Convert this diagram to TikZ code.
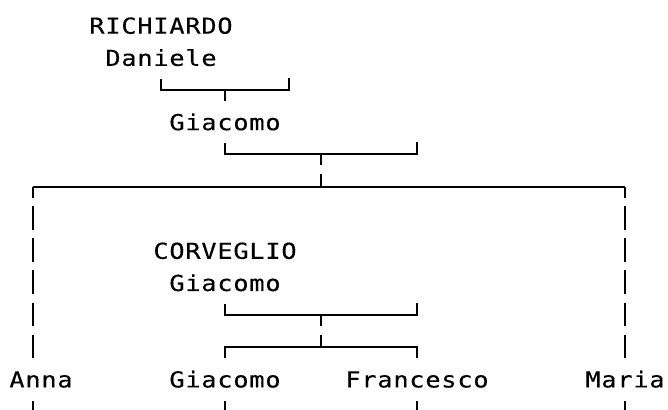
\documentclass[tikz,border=0pt]{standalone}
\usepackage{fontspec}
\usepackage{tikz}
\newfontfamily\alberofont[FakeStretch=1.15,FakeBold=0.25,LetterSpace=3.5]{DejaVu Sans Mono}

\begin{document}
\begin{tikzpicture}[x=16pt,y=-32.16pt,
    nome/.style={font=\alberofont\fontsize{22pt}{24pt}\selectfont, anchor=base, yshift=-8pt,
      text height=16pt, text depth=0pt, inner xsep=0pt, inner ysep=13pt},
    riga/.style={line width=2pt},
    tratto/.style={riga, dash pattern=on 23.5pt off 8.66pt, dash phase=12.5pt}]
  \useasboundingbox (-17pt,25.7pt) rectangle (651pt,-383.3pt);

  % nomi
  \node[nome] (richiardo) at (9,0) {RICHIARDO};
  \node[nome] (daniele) at (9,1) {Daniele};
  \node[nome] (giacomoA) at (13,3) {Giacomo};
  \node[nome] (corveglio) at (13,7) {CORVEGLIO};
  \node[nome] (giacomoB) at (13,8) {Giacomo};
  \node[nome] (anna) at (1.5,11) {Anna};
  \node[nome] (giacomoC) at (13,11) {Giacomo};
  \node[nome] (francesco) at (25,11) {Francesco};
  \node[nome] (maria) at (38,11) {Maria};

  % Daniele
  \coordinate (padreA) at (9,2);
  \coordinate (madreA) at (17,2);
  \coordinate (figliA) at (13,2);
  \draw[riga] (daniele.south -| padreA) -- (padreA) -- (madreA) -- ++(0,12.5pt);
  \draw[riga] (figliA) -- (figliA |- giacomoA.north);

  % Giacomo
  \coordinate (padreB) at (13,4);
  \coordinate (madreB) at (25,4);
  \coordinate (figliB) at (19,4);
  \coordinate (fratelli) at (19,5);
  \coordinate (fratelliW) at (1,5);
  \coordinate (fratelliE) at (38,5);
  \draw[riga] (giacomoA.south -| padreB) -- (padreB) -- (madreB) -- ++(0,12.5pt);
  \draw[tratto] (figliB) -- (fratelli);
  \draw[riga] (fratelliW) -- (fratelliE);
  \draw[tratto] (fratelliW) -- (fratelliW |- anna.north);
  \draw[tratto] (fratelliE) -- (fratelliE |- maria.north);

  % CORVEGLIO Giacomo
  \coordinate (padreC) at (13,9);
  \coordinate (madreC) at (25,9);
  \coordinate (figliC) at (19,9);
  \coordinate (fratelliC) at (19,10);
  \coordinate (fratelliCW) at (13,10);
  \coordinate (fratelliCE) at (25,10);
  \draw[riga] (giacomoB.south -| padreC) -- (padreC) -- (madreC) -- ++(0,12.5pt);
  \draw[tratto] (figliC) -- (fratelliC);
  \draw[riga] (fratelliCW |- giacomoC.north) -- (fratelliCW) -- (fratelliCE) -- (fratelliCE |- francesco.north);

  % discendenti
  \foreach \n/\c in {anna/1, giacomoC/13, francesco/25, maria/38}
    \draw[riga] (\n.south -| \c,0) -- ++(0,-20pt);
\end{tikzpicture}
\end{document}
